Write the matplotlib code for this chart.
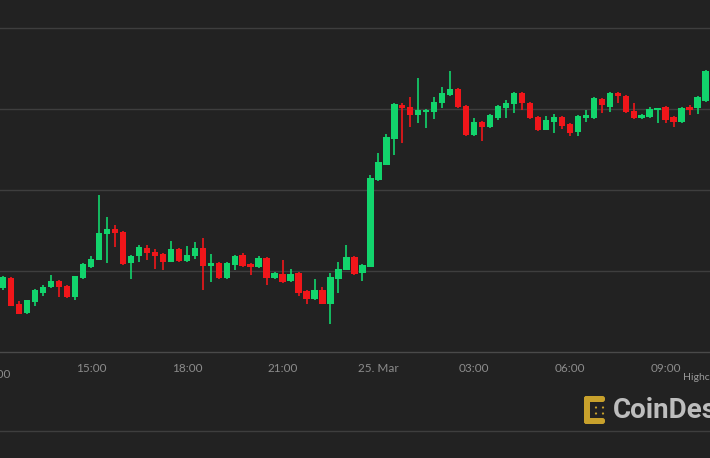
import numpy as np
import matplotlib.pyplot as plt
from matplotlib.patches import FancyBboxPatch, Circle

# 15-minute candles, index 1 = 12:15 on 24 Mar
idx = np.arange(1, 90)
opens = [6379, 6391, 6359, 6348, 6362, 6373, 6380, 6388, 6381, 6368,
         6391, 6405, 6414, 6446, 6452, 6448, 6410, 6419, 6428, 6423,
         6421, 6411, 6427, 6412, 6419, 6428, 6406, 6410, 6391, 6407,
         6420, 6409, 6405, 6416, 6391, 6396, 6388, 6398, 6375, 6365,
         6377, 6359, 6390, 6401, 6417, 6398, 6405, 6512, 6531, 6563,
         6605, 6602, 6593, 6596, 6596, 6607, 6617, 6625, 6604, 6568,
         6584, 6578, 6589, 6601, 6606, 6620, 6607, 6590, 6574, 6584,
         6590, 6581, 6572, 6589, 6589, 6612, 6602, 6620, 6616, 6598,
         6589, 6590, 6599, 6602, 6590, 6584, 6602, 6601, 6610]
highs = [6394, 6393, 6363, 6364, 6378, 6383, 6395, 6389, 6383, 6394,
         6410, 6419, 6494, 6467, 6457, 6449, 6420, 6432, 6432, 6427,
         6422, 6437, 6428, 6431, 6436, 6441, 6421, 6411, 6411, 6420,
         6422, 6410, 6419, 6417, 6399, 6414, 6402, 6399, 6377, 6390,
         6380, 6398, 6411, 6432, 6419, 6409, 6519, 6546, 6569, 6607,
         6607, 6615, 6638, 6600, 6615, 6627, 6647, 6626, 6605, 6589,
         6585, 6594, 6605, 6611, 6621, 6621, 6609, 6591, 6591, 6594,
         6591, 6583, 6593, 6599, 6615, 6614, 6621, 6621, 6617, 6607,
         6594, 6602, 6601, 6604, 6591, 6602, 6605, 6616, 6648]
lows = [6377, 6357, 6347, 6347, 6357, 6369, 6379, 6368, 6367, 6364,
        6390, 6404, 6414, 6410, 6430, 6407, 6390, 6411, 6414, 6402,
        6401, 6411, 6411, 6411, 6415, 6377, 6386, 6390, 6390, 6401,
        6405, 6395, 6404, 6383, 6390, 6385, 6386, 6369, 6359, 6364,
        6359, 6335, 6373, 6401, 6395, 6388, 6405, 6511, 6531, 6543,
        6558, 6578, 6583, 6577, 6588, 6601, 6616, 6601, 6567, 6567,
        6560, 6577, 6586, 6589, 6595, 6599, 6588, 6573, 6574, 6570,
        6575, 6567, 6567, 6584, 6588, 6595, 6596, 6607, 6595, 6588,
        6588, 6589, 6583, 6583, 6578, 6583, 6593, 6594, 6609]
closes = [6393, 6357, 6347, 6364, 6377, 6380, 6388, 6380, 6368, 6394,
          6409, 6415, 6447, 6452, 6447, 6409, 6419, 6430, 6422, 6419,
          6411, 6427, 6412, 6420, 6428, 6406, 6410, 6391, 6410, 6419,
          6406, 6405, 6416, 6391, 6398, 6386, 6396, 6373, 6365, 6377,
          6359, 6393, 6402, 6417, 6396, 6407, 6515, 6535, 6565, 6606,
          6601, 6593, 6599, 6599, 6609, 6620, 6625, 6602, 6568, 6584,
          6578, 6593, 6604, 6607, 6620, 6607, 6589, 6574, 6586, 6590,
          6579, 6570, 6591, 6593, 6614, 6605, 6620, 6616, 6596, 6589,
          6593, 6600, 6601, 6586, 6584, 6601, 6599, 6615, 6647]

tick_hours = [3, 6, 9, 12, 15, 18, 21]
tick_labels = ['15:00', '18:00', '21:00', '25. Mar', '03:00', '06:00', '09:00']
grid_prices = [6400, 6500, 6600, 6700]

bg = '#222222'
grid_col = '#3e3e3e'
up_col = '#12d46c'
down_col = '#f0161a'

t = idx * 0.25
o = np.array(opens); h = np.array(highs); l = np.array(lows); c = np.array(closes)
cols = np.where(c >= o, up_col, down_col)

fig = plt.figure(figsize=(7.1, 4.58), dpi=100, facecolor=bg)
ax = fig.add_axes([0, 106/458, 1, 352/458])
ax.set_facecolor(bg)
ax.set_xlim(0.147, 22.39)
ax.set_ylim(6300, 6734.6)

for g in grid_prices:
    ax.axhline(g, color=grid_col, lw=1.0, zorder=0)

ax.vlines(t, l, h, colors=cols, lw=1.2, zorder=2)
body = np.where(np.abs(c - o) < 1.5, 1.5, c - o)
ax.bar(t, body, bottom=o, width=0.2, color=cols, lw=0, zorder=3)

for s in ['top', 'left', 'right']:
    ax.spines[s].set_visible(False)
ax.spines['bottom'].set_color('#4a4a4a')
ax.spines['bottom'].set_linewidth(1.0)
ax.set_yticks([])
ax.set_xticks(tick_hours)
ax.set_xticklabels(tick_labels, family='Lato', fontsize=8.5, color='#8c8c8c')
ax.tick_params(axis='x', length=0, pad=8)
ax.text(0, -0.048, '12:00', transform=ax.get_xaxis_transform(), ha='center',
        va='top', family='Lato', fontsize=8.5, color='#8c8c8c', clip_on=False)

# overlay in pixel coords for credits and logo
ov = fig.add_axes([0, 0, 1, 1])
ov.set_xlim(0, 710)
ov.set_ylim(458, 0)
ov.axis('off')
ov.patch.set_alpha(0)
ov.axhline(431, color=grid_col, lw=1.0)
ov.text(683, 377, 'Highcharts.com', family='Lato', fontsize=7.5, color='#9a9a9a',
        va='center', ha='left')

gold = '#c8a12c'
ov.add_patch(FancyBboxPatch((584, 396), 6, 28, boxstyle='round,pad=0,rounding_size=2.5',
                            fc=gold, ec='none'))
ov.add_patch(FancyBboxPatch((584, 396), 21, 6, boxstyle='round,pad=0,rounding_size=2.5',
                            fc=gold, ec='none'))
ov.add_patch(FancyBboxPatch((584, 418), 21, 6, boxstyle='round,pad=0,rounding_size=2.5',
                            fc=gold, ec='none'))
for dy in (407.5, 413.5):
    for dx in (596, 603):
        ov.add_patch(Circle((dx, dy), 1.1, fc=gold, ec='none'))
ov.text(613, 411, 'CoinDesk', family='Roboto', fontweight='bold', fontsize=20,
        color='#bdbdbd', va='center', ha='left')

fig.savefig('out.png', dpi=100, facecolor=bg)
